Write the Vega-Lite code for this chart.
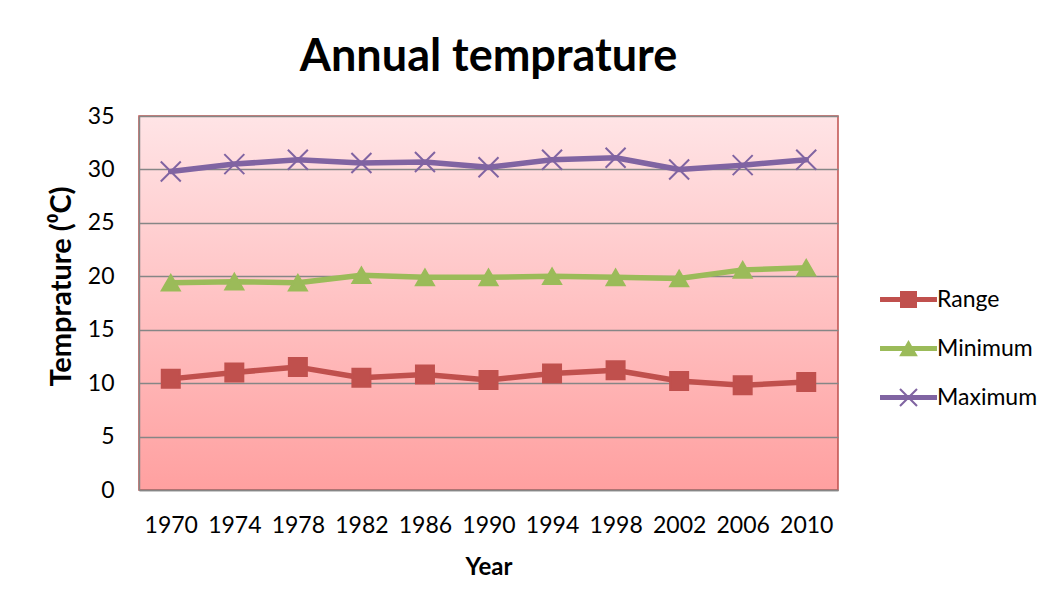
{
  "$schema": "https://vega.github.io/schema/vega-lite/v6.json",
  "width": 699,
  "height": 374,
  "autosize": {"type": "none"},
  "padding": {"left": 139, "top": 116, "right": 226, "bottom": 121},
  "background": "white",
  "title": {
    "text": "Annual temprature",
    "font": "Lato",
    "fontSize": 45,
    "fontWeight": "bold",
    "color": "#000000",
    "anchor": "middle",
    "offset": 25
  },
  "config": {
    "view": {
      "stroke": "#C0504D",
      "strokeWidth": 1.5,
      "fill": {
        "gradient": "linear",
        "x1": 0, "y1": 0, "x2": 0, "y2": 1,
        "stops": [
          {"offset": 0, "color": "#FFE4E6"},
          {"offset": 1, "color": "#FFA0A0"}
        ]
      }
    },
    "axis": {
      "labelFont": "Lato",
      "labelFontSize": 23,
      "labelColor": "#000000",
      "titleFont": "Lato",
      "titleFontSize": 24,
      "titleFontWeight": "bold",
      "titleColor": "#000000",
      "tickSize": 0,
      "domainColor": "#868686",
      "domainWidth": 1.5,
      "gridColor": "#868686",
      "gridWidth": 1.5
    },
    "legend": {
      "orient": "none",
      "legendX": 758,
      "legendY": 172,
      "symbolSize": 289,
      "symbolStrokeWidth": 0,
      "symbolOpacity": 1,
      "labelOffset": 17,
      "labelFont": "Lato",
      "labelFontSize": 23,
      "labelColor": "#000000",
      "rowPadding": 25
    }
  },
  "data": {
    "values": [
      {"year": 1970, "series": "Range", "value": 10.4},
      {"year": 1974, "series": "Range", "value": 11.0},
      {"year": 1978, "series": "Range", "value": 11.5},
      {"year": 1982, "series": "Range", "value": 10.5},
      {"year": 1986, "series": "Range", "value": 10.8},
      {"year": 1990, "series": "Range", "value": 10.3},
      {"year": 1994, "series": "Range", "value": 10.9},
      {"year": 1998, "series": "Range", "value": 11.2},
      {"year": 2002, "series": "Range", "value": 10.2},
      {"year": 2006, "series": "Range", "value": 9.8},
      {"year": 2010, "series": "Range", "value": 10.1},
      {"year": 1970, "series": "Minimum", "value": 19.4},
      {"year": 1974, "series": "Minimum", "value": 19.5},
      {"year": 1978, "series": "Minimum", "value": 19.4},
      {"year": 1982, "series": "Minimum", "value": 20.1},
      {"year": 1986, "series": "Minimum", "value": 19.9},
      {"year": 1990, "series": "Minimum", "value": 19.9},
      {"year": 1994, "series": "Minimum", "value": 20.0},
      {"year": 1998, "series": "Minimum", "value": 19.9},
      {"year": 2002, "series": "Minimum", "value": 19.8},
      {"year": 2006, "series": "Minimum", "value": 20.6},
      {"year": 2010, "series": "Minimum", "value": 20.8},
      {"year": 1970, "series": "Maximum", "value": 29.8},
      {"year": 1974, "series": "Maximum", "value": 30.5},
      {"year": 1978, "series": "Maximum", "value": 30.9},
      {"year": 1982, "series": "Maximum", "value": 30.6},
      {"year": 1986, "series": "Maximum", "value": 30.7},
      {"year": 1990, "series": "Maximum", "value": 30.2},
      {"year": 1994, "series": "Maximum", "value": 30.9},
      {"year": 1998, "series": "Maximum", "value": 31.1},
      {"year": 2002, "series": "Maximum", "value": 30.0},
      {"year": 2006, "series": "Maximum", "value": 30.4},
      {"year": 2010, "series": "Maximum", "value": 30.9}
    ]
  },
  "encoding": {
    "x": {
      "field": "year",
      "type": "ordinal",
      "scale": {"type": "point", "padding": 0.5},
      "axis": {"title": "Year", "labelAngle": 0, "labelPadding": 24, "titlePadding": 18, "grid": false}
    },
    "y": {
      "field": "value",
      "type": "quantitative",
      "scale": {"domain": [0, 35], "nice": false},
      "axis": {"title": "Temprature (⁰C)", "titleFontSize": 29, "titleY": 170, "values": [0, 5, 10, 15, 20, 25, 30, 35], "labelPadding": 25, "titlePadding": 11, "grid": true}
    }
  },
  "layer": [
    {
      "mark": {"type": "line", "strokeWidth": 5.5, "strokeJoin": "round", "strokeCap": "round"},
      "encoding": {
        "color": {
          "field": "series",
          "type": "nominal",
          "scale": {"domain": ["Range", "Minimum", "Maximum"], "range": ["#C0504D", "#9BBB59", "#8064A2"]},
          "legend": {"title": null}
        }
      }
    },
    {
      "mark": {"type": "point", "filled": true, "opacity": 0, "size": 289},
      "encoding": {
        "color": {
          "field": "series",
          "type": "nominal",
          "scale": {"domain": ["Range", "Minimum", "Maximum"], "range": ["#C0504D", "#9BBB59", "#8064A2"]},
          "legend": {"title": null}
        },
        "shape": {
          "field": "series",
          "type": "nominal",
          "scale": {
            "domain": ["Range", "Minimum", "Maximum"],
            "range": [
              "M-3.35,-0.3H3.35V0.3H-3.35Z M-1,-1H1V1H-1Z",
              "M-3.35,-0.3H3.35V0.3H-3.35Z M0,-1L1.1,0.9L-1.1,0.9Z",
              "M-3.35,-0.3H3.35V0.3H-3.35Z M-0.915,-1.085L1.085,0.915L0.915,1.085L-1.085,-0.915Z M0.915,-1.085L1.085,-0.915L-0.915,1.085L-1.085,0.915Z"
            ]
          },
          "legend": {"title": null}
        }
      }
    },
    {
      "transform": [{"filter": "datum.series === 'Range'"}],
      "mark": {"type": "point", "filled": true, "opacity": 1, "shape": "square", "size": 324, "color": "#C0504D", "stroke": "#C0504D", "strokeWidth": 2}
    },
    {
      "transform": [{"filter": "datum.series === 'Minimum'"}],
      "mark": {"type": "point", "filled": true, "opacity": 1, "shape": "triangle-up", "size": 324, "color": "#9BBB59", "stroke": "#9BBB59", "strokeWidth": 2}
    },
    {
      "transform": [{"filter": "datum.series === 'Maximum'"}],
      "mark": {"type": "point", "filled": false, "opacity": 1, "shape": "M-1,-1L1,1M-1,1L1,-1", "size": 400, "color": "#8064A2", "strokeWidth": 2}
    }
  ]
}
